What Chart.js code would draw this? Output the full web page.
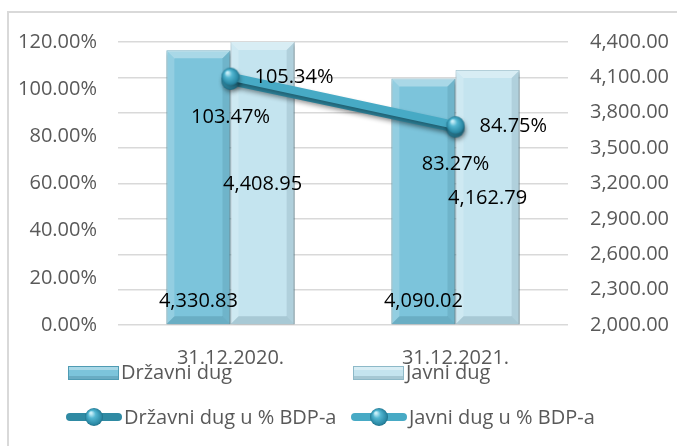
<!DOCTYPE html>
<html>
<head>
<meta charset="utf-8">
<script src="https://cdn.jsdelivr.net/npm/chart.js@4"></script>
<style>
  html, body { margin: 0; padding: 0; background: #fff; }
  #wrap { position: relative; width: 677px; height: 446px; overflow: hidden; }
  #frame { position: absolute; left: 7px; top: 11px; width: 700px; height: 460px;
           border: 2px solid #d9d9d9; box-sizing: border-box; }
  #chart { position: absolute; left: 0; top: 0; }
</style>
</head>
<body>
<div id="wrap">
  <div id="frame"></div>
  <canvas id="chart" width="677" height="446"></canvas>
</div>
<script>
// ==========================================================================
// DATA
// ==========================================================================
const categories = ['31.12.2020.', '31.12.2021.'];
const drzavniDug = [4330.83, 4090.02];      // right axis
const javniDug = [4408.95, 4162.79];        // right axis
const drzavniPct = [103.47, 83.27];         // left axis, %
const javniPct = [105.34, 84.75];           // left axis, %
const seriesNames = ['Državni dug', 'Javni dug', 'Državni dug u % BDP-a', 'Javni dug u % BDP-a'];

const FONT = "'Open Sans', 'Noto Sans', sans-serif";

// little shaded ball used for the line markers (and the legend)
function makeBall(r) {
    const c = document.createElement('canvas');
    c.width = c.height = r * 2 + 2;
    const g = c.getContext('2d');
    const cx = r + 1, cy = r + 1;
    const grad = g.createRadialGradient(cx - r * 0.35, cy - r * 0.45, 1, cx, cy, r);
    grad.addColorStop(0, '#c6eef8');
    grad.addColorStop(0.35, '#52b6d1');
    grad.addColorStop(0.85, '#2b8aa6');
    grad.addColorStop(1, '#1f6f87');
    g.fillStyle = grad;
    g.beginPath();
    g.arc(cx, cy, r, 0, Math.PI * 2);
    g.fill();
    return c;
}
const ball = makeBall(9);

const fmtAmt = v => v.toLocaleString('en-US', { minimumFractionDigits: 2, maximumFractionDigits: 2 });
const fmtPct = v => v.toFixed(2) + '%';

// ==========================================================================
// PLUGINS: shadows, bar bevels, data labels, legend
// ==========================================================================
const shadowPlugin = {
    id: 'shadows',
    beforeDatasetDraw(chart, args) {
        const ctx = chart.ctx;
        ctx.save();
        ctx.shadowColor = 'rgba(0,0,0,0.32)';
        ctx.shadowOffsetX = 1;
        ctx.shadowOffsetY = 3;
        ctx.shadowBlur = 4;
    },
    afterDatasetDraw(chart, args) {
        chart.ctx.restore();
        if (args.meta.type !== 'bar') return;
        const ctx = chart.ctx;
        const top0 = chart.chartArea.top;
        args.meta.data.forEach(el => {
            const w = el.width, x0 = el.x - w / 2, x1 = el.x + w / 2;
            const t = Math.max(el.y, top0), b = el.base, d = 8;
            ctx.save();
            // top bevel
            ctx.fillStyle = 'rgba(255,255,255,0.35)';
            ctx.beginPath();
            ctx.moveTo(x0, t); ctx.lineTo(x1, t); ctx.lineTo(x1 - d, t + d); ctx.lineTo(x0 + d, t + d);
            ctx.closePath(); ctx.fill();
            // left bevel
            ctx.fillStyle = 'rgba(255,255,255,0.18)';
            ctx.beginPath();
            ctx.moveTo(x0, t); ctx.lineTo(x0 + d, t + d); ctx.lineTo(x0 + d, b - d); ctx.lineTo(x0, b);
            ctx.closePath(); ctx.fill();
            // right bevel
            ctx.fillStyle = 'rgba(0,40,60,0.10)';
            ctx.beginPath();
            ctx.moveTo(x1, t); ctx.lineTo(x1 - d, t + d); ctx.lineTo(x1 - d, b - d); ctx.lineTo(x1, b);
            ctx.closePath(); ctx.fill();
            // bottom bevel
            ctx.fillStyle = 'rgba(0,40,60,0.14)';
            ctx.beginPath();
            ctx.moveTo(x0, b); ctx.lineTo(x1, b); ctx.lineTo(x1 - d, b - d); ctx.lineTo(x0 + d, b - d);
            ctx.closePath(); ctx.fill();
            ctx.restore();
        });
    }
};

const labelPlugin = {
    id: 'valueLabels',
    afterDatasetsDraw(chart) {
        const ctx = chart.ctx;
        ctx.save();
        ctx.font = '20px ' + FONT;
        ctx.fillStyle = '#000';
        ctx.textBaseline = 'middle';
        chart.data.datasets.forEach((ds, i) => {
            const meta = chart.getDatasetMeta(i);
            meta.data.forEach((el, j) => {
                const v = ds.data[j];
                let x = el.x, y = el.y, align = 'center', txt;
                if (i === 0) { txt = fmtAmt(v); y = el.base - 23; }
                else if (i === 1) { txt = fmtAmt(v); y = (Math.max(el.y, chart.chartArea.top) + el.base) / 2 + 1; }
                else if (i === 2) { txt = fmtPct(v); y = el.y + 36; }
                else { txt = fmtPct(v); x = el.x + 24; y = el.y + 1; align = 'left'; }
                ctx.textAlign = align;
                ctx.fillText(txt, x, y);
            });
        });
        ctx.restore();
    }
};

const legendPlugin = {
    id: 'sideLegend',
    afterDraw(chart) {
        const ctx = chart.ctx;
        const barCols = ['#7cc4db', '#c4e4ef'];
        const barEdge = ['#4f9bb3', '#8db9c8'];
        const lineCols = ['#2f8aa3', '#47aac5'];
        const cols = [66, 351];
        ctx.save();
        ctx.font = '20px ' + FONT;
        ctx.textBaseline = 'middle';
        ctx.textAlign = 'left';
        // bar swatches
        [0, 1].forEach(k => {
            const x = cols[k] + 2, y = 366, w = 51, h = 14;
            ctx.fillStyle = barCols[k];
            ctx.fillRect(x, y, w, h);
            ctx.fillStyle = 'rgba(255,255,255,0.35)';
            ctx.fillRect(x, y, w, 4);
            ctx.fillStyle = 'rgba(0,40,60,0.15)';
            ctx.fillRect(x, y + h - 4, w, 4);
            ctx.strokeStyle = barEdge[k];
            ctx.lineWidth = 1;
            ctx.strokeRect(x + 0.5, y + 0.5, w - 1, h - 1);
            ctx.fillStyle = '#595959';
            ctx.fillText(seriesNames[k], x + w + 2, 373);
        });
        // line swatches
        [0, 1].forEach(k => {
            const x = cols[k], y = 417, w = 56;
            ctx.strokeStyle = lineCols[k];
            ctx.lineWidth = 8;
            ctx.lineCap = 'round';
            ctx.beginPath();
            ctx.moveTo(x + 4, y); ctx.lineTo(x + w - 4, y);
            ctx.stroke();
            ctx.drawImage(ball, x + w / 2 - ball.width / 2, y - ball.height / 2);
            ctx.fillStyle = '#595959';
            ctx.fillText(seriesNames[k + 2], x + w + 2, 418);
        });
        ctx.restore();
    }
};

// ==========================================================================
// CHART
// ==========================================================================
const ctx = document.getElementById('chart').getContext('2d');
new Chart(ctx, {
    type: 'bar',
    data: {
        labels: categories,
        datasets: [
            {
                label: seriesNames[0], data: drzavniDug, yAxisID: 'yAmt', order: 2, base: 2000,
                backgroundColor: '#7cc4db', borderColor: '#4f9bb3', borderWidth: 1,
                categoryPercentage: 0.57, barPercentage: 1.0
            },
            {
                label: seriesNames[1], data: javniDug, yAxisID: 'yAmt', order: 2, base: 2000,
                backgroundColor: '#c4e4ef', borderColor: '#8db9c8', borderWidth: 1,
                categoryPercentage: 0.57, barPercentage: 1.0
            },
            {
                type: 'line', label: seriesNames[2], data: drzavniPct, yAxisID: 'yPct', order: 1,
                borderColor: '#2f8aa3', borderWidth: 8, pointStyle: ball, pointRadius: 9,
                tension: 0, clip: false
            },
            {
                type: 'line', label: seriesNames[3], data: javniPct, yAxisID: 'yPct', order: 0,
                borderColor: '#47aac5', borderWidth: 8, pointStyle: ball, pointRadius: 9,
                tension: 0, clip: false
            }
        ]
    },
    options: {
        responsive: false,
        animation: false,
        layout: { padding: { top: 42, left: 0, right: 0, bottom: 0 } },
        plugins: {
            legend: { display: false },
            tooltip: { enabled: false }
        },
        scales: {
            x: {
                grid: { display: false, drawTicks: false },
                border: { display: false },
                ticks: { color: '#595959', font: { size: 20, family: FONT }, padding: 21, maxRotation: 0 },
                afterFit: s => { s.height = 121; }
            },
            yPct: {
                position: 'left',
                min: 0, max: 120,
                grid: { display: false, drawTicks: false },
                border: { display: false },
                ticks: { stepSize: 20, color: '#595959', font: { size: 20, family: FONT }, padding: 21,
                         callback: v => fmtPct(v) },
                afterFit: s => { s.width = 118; }
            },
            yAmt: {
                position: 'right',
                min: 2000, max: 4400,
                grid: { color: '#d9d9d9', lineWidth: 1.5, drawTicks: false },
                border: { display: false },
                ticks: { stepSize: 300, color: '#595959', font: { size: 20, family: FONT }, padding: 22,
                         callback: v => fmtAmt(v) },
                afterFit: s => { s.width = 109; }
            }
        }
    },
    plugins: [shadowPlugin, labelPlugin, legendPlugin]
});
</script>
</body>
</html>
